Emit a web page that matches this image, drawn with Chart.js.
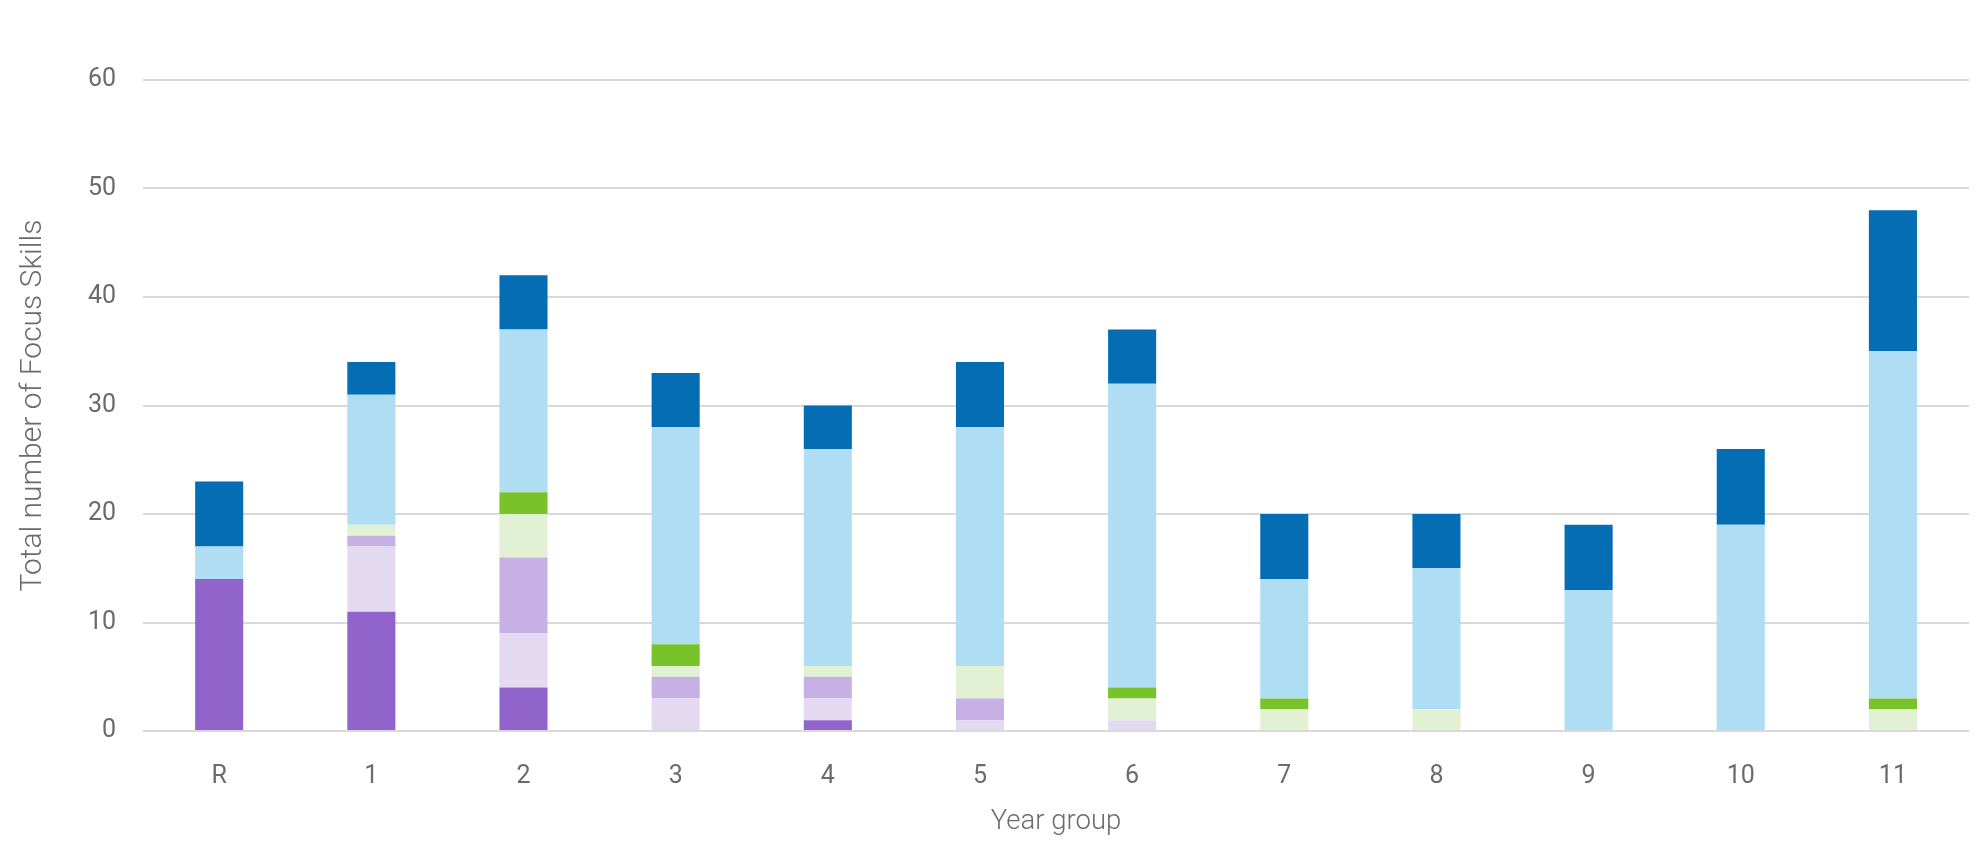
<!DOCTYPE html>
<html>
<head>
<meta charset="utf-8">
<script src="https://cdn.jsdelivr.net/npm/chart.js@4"></script>
<style>
html,body{margin:0;padding:0;background:#fff;}
#wrap{width:1985px;height:846px;position:relative;}
</style>
</head>
<body>
<div id="wrap"><canvas id="c" width="1985" height="846"></canvas></div>
<script>
const categories = ["R","1","2","3","4","5","6","7","8","9","10","11"];
const seriesNames = ["S1","S2","S3","S4","S5","S6","S7"];
const s1 = [14,11,4,0,1,0,0,0,0,0,0,0];
const s2 = [0,6,5,3,2,1,1,0,0,0,0,0];
const s3 = [0,1,7,2,2,2,0,0,0,0,0,0];
const s4 = [0,1,4,1,1,3,2,2,2,0,0,2];
const s5 = [0,0,2,2,0,0,1,1,0,0,0,1];
const s6 = [3,12,15,20,20,22,28,11,13,13,19,32];
const s7 = [6,3,5,5,4,6,5,6,5,6,7,13];
const yTicks = [0,10,20,30,40,50,60];

const seriesData = [s1,s2,s3,s4,s5,s6,s7];
const colors = ["#9164CB","#E3DAF1","#C6B0E4","#E2F0D4","#78C22A","#AFDEF4","#056DB4"];

Chart.defaults.font.family = "Roboto, 'Noto Sans', sans-serif";
Chart.defaults.color = "#6b6b6b";

new Chart(document.getElementById("c"), {
  type: "bar",
  data: {
    labels: categories,
    datasets: seriesData.map((d,i)=>({
      label: seriesNames[i],
      data: d,
      backgroundColor: colors[i],
      borderWidth: 0,
      categoryPercentage: 1.0,
      barPercentage: 0.316
    }))
  },
  options: {
    responsive: false,
    animation: false,
    devicePixelRatio: 1,
    layout: { padding: { top: 80, right: 16, bottom: 7, left: 15 } },
    plugins: { legend: { display: false }, tooltip: { enabled: false } },
    scales: {
      x: {
        stacked: true,
        grid: { display: false },
        border: { display: false },
        ticks: { font: { size: 25 }, color: "#6b6b6b", padding: 23 },
        title: { display: true, text: "Year group", font: { size: 27.5, weight: 300 }, color: "#6b6b6b", padding: { top: -9, bottom: 0 } }
      },
      y: {
        stacked: true,
        min: 0, max: 60,
        afterBuildTicks: (axis) => { axis.ticks = yTicks.map(v => ({ value: v })); },
        grid: { color: "#d9d9d9", lineWidth: 2, drawTicks: false },
        border: { display: false },
        ticks: { font: { size: 25 }, color: "#6b6b6b", padding: 27 },
        title: { display: true, text: "Total number of Focus Skills", font: { size: 30, weight: 300 }, color: "#6b6b6b", padding: { top: 0, bottom: 10 } }
      }
    }
  }
});
</script>
</body>
</html>
